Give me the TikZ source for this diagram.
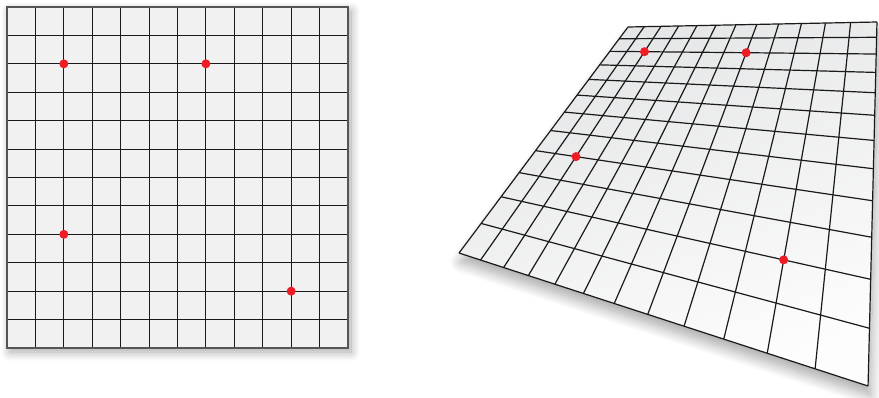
\documentclass[tikz,border=0pt]{standalone}
\usetikzlibrary{shadows.blur}
\definecolor{cellfill}{HTML}{F1F1F1}
\definecolor{celltop}{HTML}{E4E5E6}
\definecolor{cellbot}{HTML}{FDFDFD}
\definecolor{dotred}{HTML}{EE1C25}
\definecolor{gridline}{HTML}{1A1A1A}
\definecolor{borderline}{HTML}{555555}
\tikzset{
  gridln/.style={draw=gridline, line width=1pt},
  borderln/.style={draw=borderline, line width=1.8pt},
  reddot/.style={circle, fill=dotred, inner sep=0pt, minimum size=9pt},
  softshadow/.style={blur shadow={shadow xshift=3pt, shadow yshift=-4pt, shadow blur radius=9pt, shadow blur steps=14, shadow opacity=35}},
  quadshadow/.style={blur shadow={shadow xshift=2pt, shadow yshift=-9pt, shadow blur radius=11pt, shadow blur steps=14, shadow opacity=35}}
}
% homography: unit square -> quadrilateral
\newcommand\hpt[3]{%
  \pgfmathsetmacro\hden{1+(-0.23430)*(#1)+(-0.39636)*(#2)}%
  \pgfmathsetmacro\hX{(43.52*(#1)-350.93*(#2)+628)/\hden}%
  \pgfmathsetmacro\hY{(-10.155*(#1)+125.72*(#2)+27)/\hden}%
  \coordinate (#3) at (\hX,\hY);}
\begin{document}
\begin{tikzpicture}[x=1pt,y=-1pt]
\useasboundingbox (0,0) rectangle (879,397);
% ---------- left grid ----------
\coordinate (LTL) at (7,7);
\coordinate (LBR) at (348,348);
\fill[cellfill, softshadow] (LTL) rectangle (LBR);
\foreach \k in {1,...,11}{
  \pgfmathsetmacro\p{7+341*\k/12}
  \coordinate (lx\k) at (\p,7);
  \coordinate (lxb\k) at (\p,348);
  \coordinate (ly\k) at (7,\p);
  \coordinate (lyr\k) at (348,\p);
  \draw[gridln] (lx\k) -- (lxb\k);
  \draw[gridln] (ly\k) -- (lyr\k);
}
\draw[borderln] (LTL) rectangle (LBR);
\foreach \i/\j/\n in {2/2/a,7/2/b,2/8/c,10/10/d}{
  \pgfmathsetmacro\dx{7+341*\i/12}
  \pgfmathsetmacro\dy{7+341*\j/12}
  \node[reddot] (ld\n) at (\dx,\dy) {};
}
% ---------- right (projected) grid ----------
\foreach \k in {0,...,12}{
  \hpt{\k/12}{0}{t\k}
  \hpt{\k/12}{1}{b\k}
  \hpt{0}{\k/12}{l\k}
  \hpt{1}{\k/12}{r\k}
}
\shade[quadshadow, top color=celltop, bottom color=cellbot, shading angle=20]
  (t0) -- (t12) -- (b12) -- (b0) -- cycle;
\foreach \k in {0,...,12}{
  \draw[gridln, line width=1.2pt] (t\k) -- (b\k);
  \draw[gridln, line width=1.2pt] (l\k) -- (r\k);
}
\hpt{2/12}{2/12}{pa}
\hpt{7/12}{2/12}{pb}
\hpt{2/12}{8/12}{pc}
\hpt{10/12}{10/12}{pd}
\foreach \n in {a,b,c,d}{
  \node[reddot] (rd\n) at (p\n) {};
}
\end{tikzpicture}
\end{document}
